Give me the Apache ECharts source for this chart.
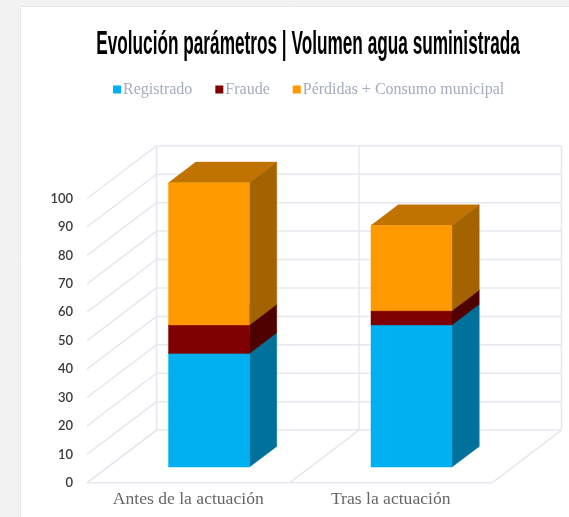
<!DOCTYPE html>
<html><head><meta charset="utf-8">
<style>html,body{margin:0;padding:0;background:#f2f2f2}#c{width:569px;height:517px}</style>
<script src="https://cdn.jsdelivr.net/npm/echarts@6/dist/echarts.min.js"></script>
</head><body><div id="c"></div>
<script>
const titleText = 'Evolución parámetros | Volumen agua suministrada';
const categories = ['Antes de la actuación', 'Tras la actuación'];
const registrado = [40, 50];
const fraude = [10, 5];
const perdidas = [50, 30];
const yTicks = [0, 10, 20, 30, 40, 50, 60, 70, 80, 90, 100];
const bandEdges = [0, 1, 2];
const seriesNames = ['Registrado', 'Fraude', 'Pérdidas + Consumo municipal'];

// 3D projection style
const DX = 69.5, DY = -52.7;
const BAR_FRONT = 0.298, BAR_DEPTH = 0.393, BAR_W = 0.4;
const WALL = '#e6e8ef';
const wallStyle = {stroke: WALL, lineWidth: 1.5, fill: null};
const palette = [
  {front: '#00B0F0', side: '#00719B', top: '#008ABD'},
  {front: '#7F0000', side: '#4F0000', top: '#600000'},
  {front: '#FF9900', side: '#A36300', top: '#C07300'}
];

function seg(a, b, c, d) {
  return {type: 'line', shape: {x1: a, y1: b, x2: c, y2: d}, style: wallStyle, silent: true};
}
function renderTick(params, api) {
  const y = api.coord([0, api.value(0)])[1];
  const cs = params.coordSys;
  const x0 = cs.x, x1 = cs.x + cs.width;
  const kids = [seg(x0, y, x0 + DX, y + DY), seg(x0 + DX, y + DY, x1 + DX, y + DY)];
  if (api.value(0) === 0) kids.push(seg(x0, y, x1, y));
  return {type: 'group', children: kids};
}
function renderEdge(params, api) {
  const cs = params.coordSys;
  const x = cs.x + api.value(0) * cs.width / categories.length;
  const y0 = cs.y + cs.height, yt = cs.y;
  return {type: 'group', children: [
    seg(x, y0, x + DX, y0 + DY),
    seg(x + DX, y0 + DY, x + DX, yt + DY)
  ]};
}
function renderBar(colors) {
  return function (params, api) {
    const cat = api.value(0);
    const p0 = api.coord([cat, api.value(1)]);
    const p1 = api.coord([cat, api.value(2)]);
    const band = api.size([1, 0])[0];
    const w = band * BAR_W;
    const l = p0[0] - w / 2 + DX * BAR_FRONT, r = l + w;
    const b = p0[1] + DY * BAR_FRONT, t = p1[1] + DY * BAR_FRONT;
    const ox = DX * BAR_DEPTH, oy = DY * BAR_DEPTH;
    const poly = (pts, fill) => ({type: 'polygon', shape: {points: pts}, style: {fill: fill, stroke: fill, lineWidth: 0.4}});
    return {type: 'group', children: [
      poly([[l, t], [r, t], [r + ox, t + oy], [l + ox, t + oy]], colors.top),
      poly([[r, b], [r + ox, b + oy], [r + ox, t + oy], [r, t]], colors.side),
      poly([[l, b], [r, b], [r, t], [l, t]], colors.front)
    ]};
  };
}
function stackData(i) {
  const groups = [registrado, fraude, perdidas];
  return categories.map((_, k) => {
    let s = 0;
    for (let g = 0; g < i; g++) s += groups[g][k];
    return [k, s, s + groups[i][k]];
  });
}

const chart = echarts.init(document.getElementById('c'), null, {renderer: 'canvas'});
chart.setOption({
  animation: false,
  backgroundColor: '#f2f2f2',
  grid: {left: 87, width: 405, top: 198.5, height: 284.3, containLabel: false},
  legend: {
    data: seriesNames, left: 113, top: 81.5, padding: 0,
    icon: 'rect', itemWidth: 8, itemHeight: 8, itemGap: 23, selectedMode: false,
    textStyle: {fontFamily: '"Liberation Serif"', fontSize: 16, color: '#a3abbd', padding: [1, 0, 0, -3]}
  },
  xAxis: {
    type: 'category', data: categories,
    axisLine: {show: false}, axisTick: {show: false}, splitLine: {show: false},
    axisLabel: {margin: 8, fontFamily: '"Liberation Serif"', fontSize: 17.6, color: '#666666'}
  },
  yAxis: {
    type: 'value', min: 0, max: 100, interval: 10,
    axisLine: {show: false}, axisTick: {show: false}, splitLine: {show: false},
    axisLabel: {margin: 14, fontFamily: 'Lato', fontSize: 13, fontWeight: 600, color: '#3a3a3a'}
  },
  graphic: [
    {type: 'rect', z: -10, silent: true, shape: {x: 20.5, y: 6.5, width: 600, height: 600},
     style: {fill: '#ffffff', stroke: '#e6e7ef', lineWidth: 1}},
    {type: 'text', silent: true, x: 308, y: 45, scaleX: 0.615, scaleY: 1.2,
     style: {text: titleText, align: 'center', verticalAlign: 'middle', fill: '#000000',
       font: 'bold 28px "Liberation Sans Narrow", "Liberation Sans"'}}
  ],
  series: [
    {type: 'custom', name: 'ticks', silent: true, z: 1, data: yTicks.map(v => [v]), encode: {y: 0}, renderItem: renderTick},
    {type: 'custom', name: 'edges', silent: true, z: 1, data: bandEdges.map(v => [v]), renderItem: renderEdge},
  ].concat(seriesNames.map((n, i) => ({
    type: 'custom', name: n, z: 2 + i, silent: true,
    itemStyle: {color: palette[i].front},
    encode: {x: 0, y: [1, 2]},
    data: stackData(i),
    renderItem: renderBar(palette[i])
  })))
});
</script></body></html>
